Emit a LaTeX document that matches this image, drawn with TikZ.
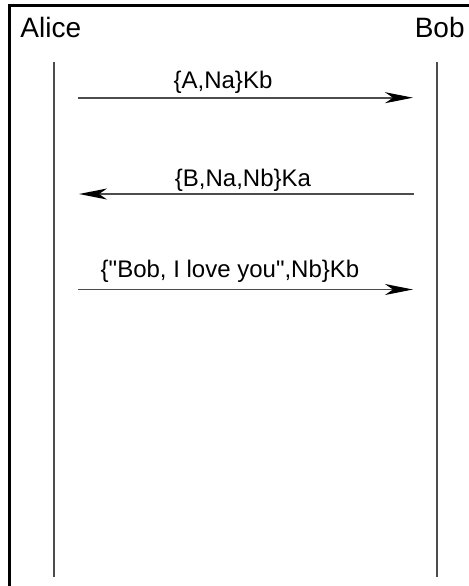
\documentclass[tikz,border=0pt]{standalone}
\usepackage{fontspec}
\setmainfont{Liberation Sans}[Ligatures=TeXOff]
\usetikzlibrary{arrows.meta}
\begin{document}
\begin{tikzpicture}[x=0.5pt,y=-0.5pt,
  frame/.style={line width=1.5pt,black},
  lifeline/.style={line width=1pt,black!70},
  msg/.style={line width=0.85pt,black!70,
    -{Stealth[length=14pt,width=5.5pt,inset=4pt,black]}},
  actor/.style={font=\fontsize{14}{16}\selectfont,inner sep=0pt},
  msglabel/.style={font=\fontsize{12}{14}\selectfont,inner sep=0pt,anchor=base}]
  \useasboundingbox (0,0) rectangle (469,586);
  \clip (0,0) rectangle (469,586);
  % outer frame, open towards the right and bottom edges
  \draw[frame] (10,600) -- (10,5) -- (480,5);
  % participants
  \node[actor,anchor=base west] (alice) at (20,37.5) {Alice};
  \node[actor,anchor=base east] (bob) at (465,37) {Bob};
  % lifelines
  \coordinate (atop) at (54.5,62);
  \coordinate (abot) at (54.5,577);
  \coordinate (btop) at (437.5,62);
  \coordinate (bbot) at (437.5,577);
  \draw[lifeline] (atop) -- (abot);
  \draw[lifeline] (btop) -- (bbot);
  % message end points
  \coordinate (m1s) at (78,97.7);
  \coordinate (m1e) at (413,97.7);
  \coordinate (m2s) at (414,194);
  \coordinate (m2e) at (79,194);
  \coordinate (m3s) at (78,289.5);
  \coordinate (m3e) at (413,289.5);
  % messages
  \draw[msg] (m1s) -- (m1e);
  \node[msglabel] (l1) at (223,88) {\{A,Na\}Kb};
  \draw[msg] (m2s) -- (m2e);
  \node[msglabel] (l2) at (243,186) {\{B,Na,Nb\}Ka};
  \draw[msg] (m3s) -- (m3e);
  \node[msglabel] (l3) at (230,277.5) {\{"Bob, I love you",Nb\}Kb};
\end{tikzpicture}
\end{document}
